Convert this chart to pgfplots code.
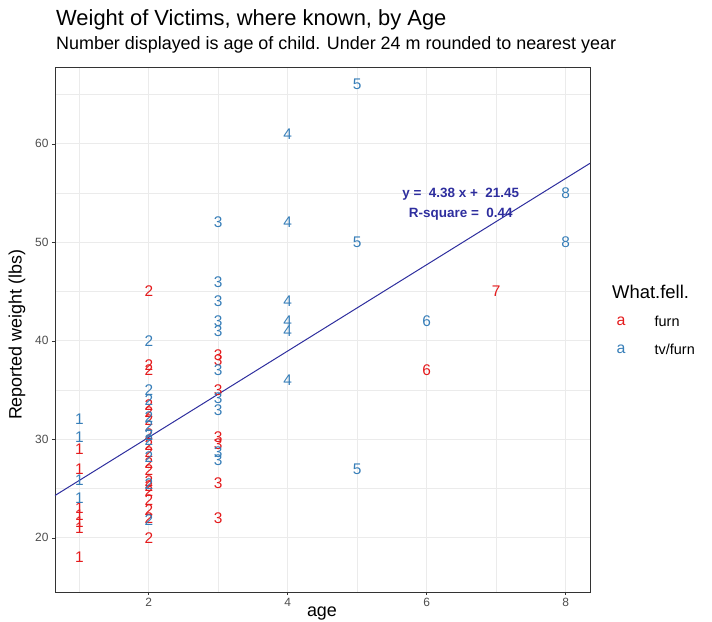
\documentclass[border=0pt]{standalone}
\usepackage{pgfplots}
\pgfplotsset{compat=1.18}
\usepackage{pgfplotstable}
\usepackage{fontspec}
\setmainfont{Liberation Sans}
\definecolor{furncol}{HTML}{E41A1C}
\definecolor{tvcol}{HTML}{377EB8}
\definecolor{fitcol}{HTML}{2E2E9E}
\definecolor{gridc}{HTML}{EBEBEB}
\definecolor{tickc}{HTML}{4D4D4D}
\definecolor{borderc}{HTML}{333333}

\pgfplotstableread{
x y
1 29
1 27
1 23
1 22.3
1 21.6
1 21
1 18
2 45
2 37.5
2 37
2 33.5
2 32.8
2 32
2 30.5
2 29.4
2 28.7
2 27.6
2 26.9
2 25.8
2 25.3
2 24.7
2 23.8
2 22.8
2 22
2 20
3 38.5
3 38
3 35
3 30.2
3 29.5
3 25.5
3 22
6 37
7 45
}\furntab

\pgfplotstableread{
x y
1 32
1 30.2
1 25.9
1 24
2 40
2 35
2 34
2 32.3
2 31.3
2 30.4
2 29.9
2 28.2
2 25.5
2 21.8
3 52
3 46
3 44
3 42
3 41
3 37
3 34.2
3 33
3 28.7
3 27.9
4 61
4 52
4 44
4 42
4 41
4 36
5 66
5 50
5 27
6 42
8 55
8 50
}\tvtab

\begin{document}
\begin{tikzpicture}
\path[use as bounding box] (0,0) rectangle (712bp,622bp);
\begin{axis}[
  at={(55bp,30bp)}, anchor=south west,
  scale only axis, width=535bp, height=525bp,
  xmin=0.65, xmax=8.35, ymin=14.5, ymax=67.8,
  xtick={2,4,6,8}, ytick={20,30,40,50,60},
  minor xtick={1,3,5,7}, minor ytick={25,35,45,55,65},
  grid=both,
  major grid style={draw=gridc, line width=0.9bp},
  minor grid style={draw=gridc, line width=0.5bp},
  axis line style={draw=borderc, line width=0.8bp},
  tick align=outside, major tick length=3bp, minor tick length=0pt,
  tick style={draw=borderc, line width=0.6bp},
  xtick pos=bottom, ytick pos=left,
  ticklabel style={font=\fontsize{12}{12}\selectfont, text=tickc},
  /pgf/number format/assume math mode=true,
  xlabel={age}, ylabel={Reported weight (lbs)},
  xlabel style={font=\fontsize{18}{18}\selectfont, at={(axis description cs:0.499,-0.041)}, anchor=center},
  ylabel style={font=\fontsize{18}{18}\selectfont, at={(axis description cs:-0.071,0.49)}, anchor=center},
  legend style={at={(axis description cs:1.045,0.529)}, anchor=north west, draw=none, fill=none,
    font=\fontsize{14.5}{14.5}\selectfont, row sep=12bp, inner sep=0pt},
  legend cell align=left,
  clip=false,
]
\addplot[draw=fitcol, line width=1bp, forget plot] coordinates {(0.65,24.297) (8.35,58.023)};
\addplot[only marks, mark=none, point meta=x,
  nodes near coords={\pgfmathprintnumber{\pgfplotspointmeta}},
  nodes near coords style={anchor=center, text=furncol, font=\fontsize{15.5}{15.5}\selectfont, inner sep=0pt},
  legend image code/.code={\path (0bp,0bp) (38bp,0bp); \node[anchor=center, text=furncol, font=\fontsize{16}{16}\selectfont, inner sep=0pt] at (6.5bp,0bp) {a};}
] table[x=x,y=y] {\furntab};
\addlegendentry{furn}
\addplot[only marks, mark=none, point meta=x,
  nodes near coords={\pgfmathprintnumber{\pgfplotspointmeta}},
  nodes near coords style={anchor=center, text=tvcol, font=\fontsize{15.5}{15.5}\selectfont, inner sep=0pt},
  legend image code/.code={\path (0bp,0bp) (38bp,0bp); \node[anchor=center, text=tvcol, font=\fontsize{16}{16}\selectfont, inner sep=0pt] at (6.5bp,0bp) {a};}
] table[x=x,y=y] {\tvtab};
\addlegendentry{tv/furn}
\node[text=fitcol, font=\bfseries\fontsize{13.5}{13.5}\selectfont] at (axis cs:6.49,54.9) {y =\ \ 4.38 x +\ \ 21.45};
\node[text=fitcol, font=\bfseries\fontsize{13.5}{13.5}\selectfont] at (axis cs:6.49,52.9) {R-square =\ \ 0.44};
\end{axis}
\node[anchor=base west, inner sep=0pt, font=\fontsize{22}{22}\selectfont] at (56bp,596bp) {Weight of Victims, where known, by Age};
\node[anchor=base west, inner sep=0pt, font=\fontsize{18}{18}\selectfont] at (56bp,572bp) {Number displayed is age of child. Under 24 m rounded to nearest year};
\node[anchor=west, inner sep=0pt, font=\fontsize{18.5}{18.5}\selectfont] at (612bp,330bp) {What.fell.};
\end{tikzpicture}
\end{document}
